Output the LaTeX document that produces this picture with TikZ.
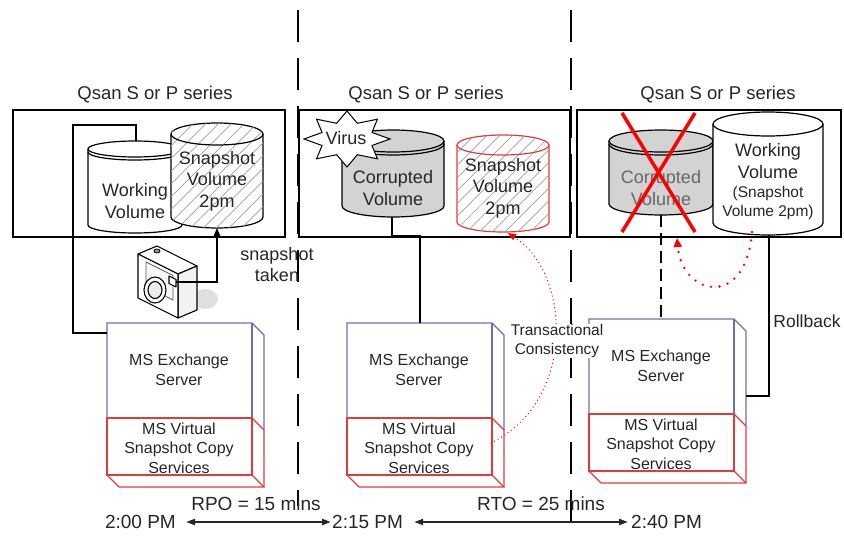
\documentclass[tikz,border=0pt]{standalone}
\usepackage{fontspec}
\setmainfont{Liberation Sans}
\usetikzlibrary{arrows.meta,patterns.meta}

\definecolor{srvblue}{HTML}{6E6EB4}
\definecolor{srvred}{HTML}{E23B3B}
\definecolor{txt}{HTML}{262626}
\definecolor{disk}{HTML}{D3D3D3}

% Storage drum: #1 cx, #2 y of top ellipse, #3 y of bottom ellipse,
% #4 x radius, #5 y radius, #6 body options, #7 rim options
\newcommand\drum[7]{%
  \path[#6] ({#1-#4},#2) -- ({#1-#4},#3)
     arc[start angle=180,end angle=360,x radius=#4pt,y radius=#5pt]
     -- ({#1+#4},#2)
     arc[start angle=0,end angle=180,x radius=#4pt,y radius=#5pt] -- cycle;
  \path[#7] ({#1-#4},#2)
     arc[start angle=180,end angle=360,x radius=#4pt,y radius=#5pt];
}
% second rim line for the platter look
\newcommand\drumrim[6]{%
  \path[#6] ({#1-#4},{#2+#3})
     arc[start angle=180,end angle=360,x radius=#4pt,y radius=#5pt];
}

% Server block: #1 name, #2 x of front left, #3 y of front top
\newcommand\server[3]{%
  \coordinate (#1) at (#2,#3);
  \draw[srvblue, line width=1.1] (#2,{#3+95}) -- (#2,#3) -- ({#2+145},#3)
     -- ({#2+157},{#3+12}) -- ({#2+157},{#3+107});
  \draw[srvblue, line width=1.1] ({#2+145},#3) -- ({#2+145},{#3+95});
  \draw[srvred, line width=1.1] (#2,{#3+95}) rectangle ({#2+145},{#3+152});
  \draw[srvred, line width=1.1] ({#2+145},{#3+95}) -- ({#2+157},{#3+107})
     -- ({#2+157},{#3+164}) -- ({#2+12},{#3+164}) -- (#2,{#3+152});
  \draw[srvred, line width=1.1] ({#2+145},{#3+152}) -- ({#2+157},{#3+164});
  \node[srvtext] (#1-app) at ({#2+72},{#3+47}) {MS Exchange\\Server};
  \node[srvtext] (#1-vss) at ({#2+72},{#3+125}) {MS Virtual\\Snapshot Copy\\Services};
}

\begin{document}
\begin{tikzpicture}[x=1pt,y=-1pt,
  every node/.style={text=txt},
  title/.style={font=\fontsize{18.5}{21}\selectfont},
  voltext/.style={align=center,font=\fontsize{18}{21.5}\selectfont,inner sep=0pt},
  srvtext/.style={align=center,font=\fontsize{16}{19.5}\selectfont,inner sep=0pt},
  note/.style={align=center,font=\fontsize{15.5}{18.5}\selectfont,inner sep=1pt},
  timetext/.style={font=\fontsize{19}{21}\selectfont,inner sep=0pt},
  frame/.style={draw=black,line width=1.3},
  link/.style={draw=black,line width=1.3},
  sep/.style={draw=black,line width=1.4,dash pattern=on 32pt off 16pt},
  hatch/.style={fill=white,postaction={pattern={Lines[angle=45,distance=9pt,line width=0.7pt]},pattern color=gray!75}},
  tip/.style={-{Triangle[length=8pt,width=6.5pt]}},
  redflow/.style={draw=red,line width=1.4,line cap=round,dash pattern=on 0pt off 4pt,tip},
  redloop/.style={draw=red,line width=2.6,line cap=round,dash pattern=on 0pt off 8.5pt,
                  -{Triangle[length=9pt,width=8pt]}},
  timeline/.style={draw=txt,line width=2,{Triangle[length=9pt,width=6pt]}-{Triangle[length=9pt,width=6pt]}},
  cambody/.style={draw=black,line width=1.1,line join=round},
]
\useasboundingbox (0,0) rectangle (844,546);

% time separators
\draw[sep] (298,10) -- (298,506);
\draw[sep] (571,10) -- (571,534);

% storage frames
\draw[frame] (13,110) rectangle (285,237);
\draw[frame] (299,110) rectangle (570,237);
\draw[frame] (577,110) rectangle (841,237);
\node[title] (q1) at (155,95) {Qsan S or P series};
\node[title] (q2) at (426,95) {Qsan S or P series};
\node[title] (q3) at (718,95) {Qsan S or P series};

% ---- 2:00 PM ----
\drum{135}{149}{225}{47}{8}{draw,line width=1.2,fill=white}{draw,line width=1.2}
\drumrim{135}{149}{3}{47}{8}{draw,line width=1.2}
\node[voltext] (work1) at (135,201) {Working\\Volume};
\drum{217}{134}{217}{46}{11}{draw,line width=1.2,hatch}{draw,line width=1.2}
\node[voltext] (snap1) at (217,181) {Snapshot\\Volume\\2pm};
\coordinate (work1top) at (136,141);
\coordinate (snap1bot) at (217,228);

% camera
\fill[gray!25] (205,299) ellipse [x radius=13pt, y radius=10pt];
\draw[cambody,fill=white] (138,254) -- (157,246) -- (197,266) -- (178,274) -- cycle;
\draw[cambody,fill=gray!10] (178,274) -- (197,266) -- (197,310) -- (178,318) -- cycle;
\draw[cambody,fill=white] (138,254) -- (178,274) -- (178,318) -- (138,298) -- cycle;
\draw[line width=0.7,gray!70!black,fill=gray!6] (146,262) -- (173,275.5) -- (173,300) -- (146,286.5) -- cycle;
\draw[cambody,fill=white] (155,290) ellipse [x radius=11pt, y radius=13pt];
\draw[cambody,fill=gray!15] (155,290) ellipse [x radius=7pt, y radius=8.5pt];
\draw[cambody,fill=white] (169,276) -- (176,279.5) -- (176,287) -- (169,283.5) -- cycle;
\draw[line width=0.8,fill=green!45!black!55] (157,251) ellipse [x radius=3pt, y radius=2pt];
\coordinate (cam) at (176,282);
\node[note,font=\fontsize{18}{21}\selectfont] (taken) at (277,265) {snapshot\\taken};

\server{srv1}{107}{323}
\coordinate (bend1) at (73,125);
\coordinate (srv1in) at (107,333);
\draw[link] (work1top) |- (bend1) |- (srv1in);
\draw[link,tip] (cam) -| (snap1bot);

% ---- 2:15 PM ----
\drum{393}{141}{206}{51}{11}{draw,line width=1.2,fill=disk}{draw,line width=1.2}
\drumrim{393}{141}{3}{51}{11}{draw,line width=1.2}
\draw[line width=1,fill=white] plot[samples at={0,1,...,15}, variable=\k]
  ({347+ifthenelse(mod(\k,2)==0,43,27)*cos(90+\k*22.5)},
   {139+ifthenelse(mod(\k,2)==0,28,17)*sin(90+\k*22.5)}) -- cycle;
\node[voltext] (virus) at (346,138) {Virus};
\node[voltext] (corr2) at (393,188) {Corrupted\\Volume};
\drum{503}{145}{222}{46}{10}{draw=srvred,line width=1.2,hatch}{draw=srvred,line width=1.2}
\node[voltext] (snap2) at (503,188) {Snapshot\\Volume\\2pm};
\coordinate (corr2bot) at (392,217);
\coordinate (snap2bot) at (508,233);

\server{srv2}{347}{323}
\coordinate (srv2top) at (420,323);
\coordinate (srv2side) at (491,443);
\draw[link] (corr2bot) -- ++(0,19) -| (srv2top);
\draw[redflow] (srv2side) .. controls (578,400) and (570,272) .. (snap2bot);

% ---- 2:40 PM ----
\drum{661}{141}{204}{52}{11}{draw,line width=1.2,fill=disk}{draw,line width=1.2}
\drumrim{661}{141}{3}{52}{11}{draw,line width=1.2}
\node[voltext,text=txt!70] (corr3) at (661,188) {Corrupted\\Volume};
\drum{768}{124}{223}{55}{12}{draw,line width=1.2,fill=white}{draw,line width=1.2}
\node[voltext] (work3) at (768,161) {Working\\Volume};
\node[note,inner sep=0pt] (work3note) at (768,203) {(Snapshot\\Volume 2pm)};
\draw[red,line width=3.5] (622,113) -- (695,232);
\draw[red,line width=3.5] (695,113) -- (622,232);
\coordinate (corr3bot) at (661,215);
\coordinate (work3bot) at (769,235);
\coordinate (work3drip) at (752,232);
\coordinate (corr3tip) at (677,238);

\server{srv3}{589}{319}
\coordinate (srv3top) at (661,319);
\coordinate (srv3side) at (746,396);
\draw[link,dashed,dash pattern=on 12pt off 6pt] (corr3bot) -- (srv3top);
\draw[link] (work3bot) |- (srv3side);
\draw[redloop] (work3drip) .. controls (746,310) and (682,296) .. (corr3tip);
\node[note,font=\fontsize{17.5}{20}\selectfont] (rollback) at (807,321) {Rollback};

\node[note,fill=white] (tc) at (557,341) {Transactional\\Consistency};

% ---- time line ----
\node[timetext,anchor=east] (t1) at (176,522) {2:00 PM};
\node[timetext,anchor=west] (t2) at (332,522) {2:15 PM};
\node[timetext,anchor=west] (t3) at (631,522) {2:40 PM};
\draw[timeline] ([xshift=10pt]t1.east) -- ([xshift=-1pt]t2.west);
\draw[timeline] ([xshift=11pt]t2.east) -- ([xshift=-3pt]t3.west);
\node[timetext] (rpo) at (256,504) {RPO = 15 mins};
\node[timetext] (rto) at (541,504) {RTO = 25 mins};
\end{tikzpicture}
\end{document}
